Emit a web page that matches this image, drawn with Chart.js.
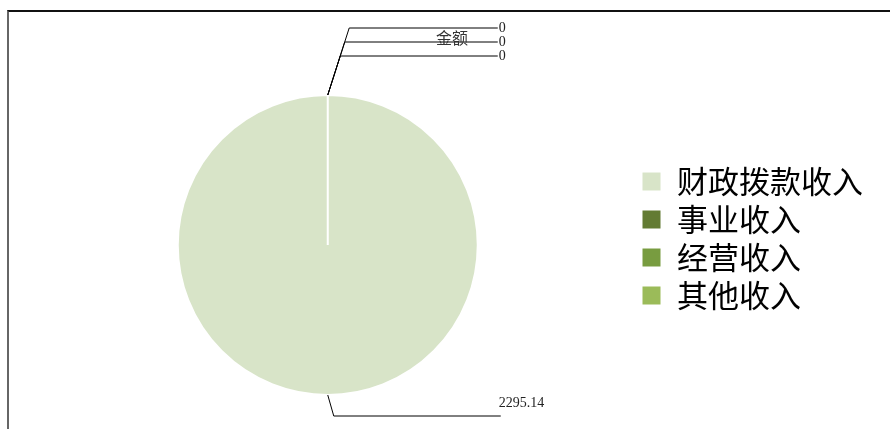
<!DOCTYPE html>
<html lang="zh">
<head>
    <meta charset="utf-8">
    <title>金额</title>
    <script src="https://cdn.jsdelivr.net/npm/chart.js"></script>
    <style>
        body, html { margin: 0; padding: 0; background: #fff; }
        #wrap { position: relative; width: 890px; height: 429px; overflow: hidden; }
        #frame {
            position: absolute;
            left: 7px;
            top: 10px;
            width: 900px;
            height: 430px;
            border-top: 2px solid #111;
            border-left: 2px solid #666;
        }
        #chart { position: absolute; left: 0; top: 0; }
    </style>
</head>
<body>
    <div id="wrap">
        <div id="frame"></div>
        <canvas id="chart" width="890" height="429"></canvas>
    </div>
    <script>
        // data
        const chartTitle = '金额';
        const categories = ['财政拨款收入', '事业收入', '经营收入', '其他收入'];
        const amounts = [2295.14, 0, 0, 0];
        const valueLabels = ['2295.14', '0', '0', '0'];
        const sliceColors = ['#d8e4c8', '#637b33', '#789c40', '#9bbb59'];

        // leader lines + value labels, placed from the arc geometry
        const leaderLabels = {
            id: 'leaderLabels',
            afterDatasetsDraw(chart) {
                const ctx = chart.ctx;
                const meta = chart.getDatasetMeta(0);
                let upCount = 0;
                ctx.save();
                ctx.strokeStyle = '#000';
                ctx.lineWidth = 1;
                ctx.fillStyle = '#222';
                meta.data.forEach((arc, i) => {
                    const p = arc.getProps(['x', 'y', 'startAngle', 'endAngle', 'outerRadius'], true);
                    const mid = (p.startAngle + p.endAngle) / 2;
                    const px = p.x + Math.cos(mid) * p.outerRadius;
                    const py = p.y + Math.sin(mid) * p.outerRadius;
                    let ex, ey, endX;
                    ctx.textAlign = 'left';
                    ctx.textBaseline = 'middle';
                    ctx.font = '14px "Liberation Serif", "DejaVu Serif", serif';
                    if (Math.sin(mid) < 0) {
                        // stack labels upward
                        const k = 2 - upCount;
                        upCount++;
                        ey = py - 39 - k * 14;
                        ex = px + (py - ey) * 0.32;
                        endX = p.x + 170;
                        ctx.beginPath();
                        ctx.moveTo(px, py);
                        ctx.lineTo(ex, ey);
                        ctx.lineTo(endX, ey);
                        ctx.stroke();
                        ctx.fillText(valueLabels[i], endX + 1, ey);
                    } else {
                        ey = py + 21;
                        ex = px + 6;
                        endX = p.x + 173;
                        ctx.beginPath();
                        ctx.moveTo(px, py);
                        ctx.lineTo(ex, ey);
                        ctx.lineTo(endX, ey);
                        ctx.stroke();
                        ctx.fillText(valueLabels[i], endX - 2, ey - 13);
                    }
                });
                // chart title
                ctx.font = '16px "Noto Sans CJK SC", sans-serif';
                ctx.fillStyle = '#333';
                ctx.textAlign = 'center';
                ctx.textBaseline = 'middle';
                ctx.fillText(chartTitle, 452, 38);
                ctx.restore();
            }
        };

        const ctx = document.getElementById('chart').getContext('2d');
        const chart = new Chart(ctx, {
            type: 'pie',
            data: {
                labels: categories,
                datasets: [{
                    data: amounts,
                    backgroundColor: sliceColors,
                    borderColor: '#fff',
                    borderWidth: 2
                }]
            },
            options: {
                responsive: false,
                animation: false,
                layout: {
                    padding: { left: 21, right: 17, top: 94, bottom: 33 }
                },
                plugins: {
                    legend: {
                        display: true,
                        position: 'right',
                        align: 'start',
                        title: {
                            display: true,
                            text: '',
                            font: { size: 10 },
                            padding: { top: 53, bottom: 0 }
                        },
                        labels: {
                            boxWidth: 20,
                            boxHeight: 20,
                            padding: 7,
                            color: '#000',
                            font: { size: 31, family: '"Noto Sans CJK SC", sans-serif' }
                        }
                    },
                    tooltip: { enabled: false }
                }
            },
            plugins: [leaderLabels]
        });
    </script>
</body>
</html>
